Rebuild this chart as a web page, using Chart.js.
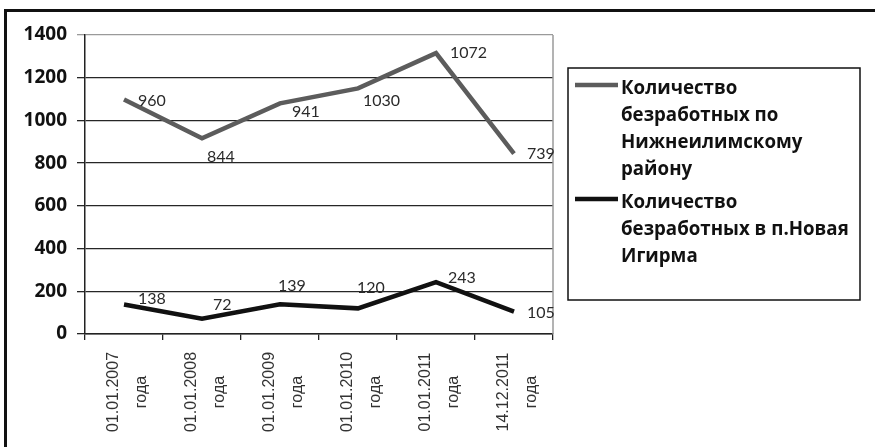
<!DOCTYPE html>
<html>
<head>
<meta charset="utf-8">
<script src="https://cdn.jsdelivr.net/npm/chart.js@4"></script>
<style>
  html, body { margin: 0; padding: 0; background: #fff; }
  #wrap { position: relative; width: 875px; height: 447px; }
</style>
</head>
<body>
<div id="wrap"><canvas id="chart" width="875" height="447"></canvas></div>
<script>
// categories (two lines each, as on the axis)
const dates = ["01.01.2007", "01.01.2008", "01.01.2009", "01.01.2010", "01.01.2011", "14.12.2011"];
const dateSuffix = "года";

// series (the chart is a stacked line: district line sits on top of the settlement line)
const districtName = "Количество\nбезработных по\nНижнеилимскому\nрайону";
const districtValues = [960, 844, 941, 1030, 1072, 739];
const settlementName = "Количество\nбезработных в п.Новая\nИгирма";
const settlementValues = [138, 72, 139, 120, 243, 105];

const yTicks = [0, 200, 400, 600, 800, 1000, 1200, 1400];

// small nudges for the value labels (Excel moved them around the line)
const districtNudge = [[14, 1], [5, 18], [12, 9], [5, 12], [14, 0], [13, 0]];
const settlementNudge = [[14, -6], [11, -14], [-2, -18], [-1, -21], [12, -4], [13, 1]];

const GREY = "#5c5c5c";
const BLACK = "#111111";
const FONT = "Lato, 'Open Sans', sans-serif";
const BOLD_FONT = "'Open Sans', Lato, sans-serif";

const frame = {
  id: "frame",
  beforeDraw(chart) {
    const ctx = chart.ctx;
    ctx.save();
    ctx.fillStyle = "#fff";
    ctx.fillRect(0, 0, chart.width, chart.height);
    // outer border (top + left only, rest is cut off)
    ctx.strokeStyle = BLACK;
    ctx.lineWidth = 3;
    ctx.beginPath();
    ctx.moveTo(5.5, chart.height);
    ctx.lineTo(5.5, 10.5);
    ctx.lineTo(chart.width, 10.5);
    ctx.stroke();
    ctx.restore();
  },
  afterDraw(chart) {
    const ctx = chart.ctx;
    const a = chart.chartArea;
    const x = chart.scales.x;
    ctx.save();
    // plot area frame right side
    ctx.strokeStyle = "#9a9a9a";
    ctx.lineWidth = 1.5;
    ctx.beginPath();
    ctx.moveTo(a.right, a.top);
    ctx.lineTo(a.right, a.bottom);
    ctx.stroke();

    // x labels, rotated, two centred lines
    ctx.fillStyle = "#333";
    ctx.font = "16px 'Liberation Sans', Arial, sans-serif";
    ctx.textAlign = "center";
    ctx.textBaseline = "alphabetic";
    dates.forEach((d, i) => {
      const cx = x.getPixelForValue(i);
      ctx.save();
      ctx.translate(cx, 392);
      ctx.rotate(-Math.PI / 2);
      ctx.fillText(d, 0, -6);
      ctx.fillText(dateSuffix, 0, 22);
      ctx.restore();
    });

    // value labels
    ctx.font = "16px " + FONT;
    ctx.textAlign = "left";
    ctx.textBaseline = "middle";
    ctx.fillStyle = "#2a2a2a";
    [[0, settlementValues, settlementNudge], [1, districtValues, districtNudge]].forEach(([di, vals, nudge]) => {
      const meta = chart.getDatasetMeta(di);
      meta.data.forEach((pt, i) => {
        ctx.fillText(String(vals[i]), pt.x + nudge[i][0], pt.y + nudge[i][1]);
      });
    });

    // legend box
    const lx = 568, ly = 68, lw = 292, lh = 232;
    ctx.strokeStyle = BLACK;
    ctx.lineWidth = 1.5;
    ctx.strokeRect(lx, ly, lw, lh);
    ctx.font = "bold 18.7px " + BOLD_FONT;
    ctx.fillStyle = "#111";
    const items = [
      { name: districtName, color: GREY, y: 89 },
      { name: settlementName, color: BLACK, y: 203 }
    ];
    items.forEach(it => {
      ctx.strokeStyle = it.color;
      ctx.lineWidth = 4.5;
      ctx.beginPath();
      ctx.moveTo(575, it.y - 4);
      ctx.lineTo(618, it.y - 4);
      ctx.stroke();
      it.name.split("\n").forEach((line, k) => {
        ctx.fillText(line, 621, it.y + k * 27);
      });
    });
    ctx.restore();
  }
};

new Chart(document.getElementById("chart"), {
  type: "line",
  data: {
    labels: dates,
    datasets: [
      {
        label: settlementName,
        data: settlementValues,
        borderColor: BLACK,
        borderWidth: 4.5,
        pointRadius: 0,
        tension: 0
      },
      {
        label: districtName,
        data: districtValues,
        borderColor: GREY,
        borderWidth: 4.5,
        pointRadius: 0,
        tension: 0
      }
    ]
  },
  options: {
    responsive: false,
    animation: false,
    layout: { padding: { left: 0, top: 35, right: 322, bottom: 113 } },
    plugins: { legend: { display: false }, tooltip: { enabled: false } },
    scales: {
      x: {
        offset: true,
        grid: { offset: true, drawOnChartArea: false, tickLength: 6, color: "#222", lineWidth: 1.3 },
        border: { color: "#222", width: 1.5 },
        ticks: { display: false },
        afterFit: (s) => { s.height = 0; }
      },
      y: {
        stacked: true,
        min: 0,
        max: 1400,
        afterBuildTicks: (s) => { s.ticks = yTicks.map(v => ({ value: v })); },
        grid: {
          tickLength: 8,
          lineWidth: 1.3,
          color: (c) => (c.tick && c.tick.value === 1400 ? "#9a9a9a" : "#262626")
        },
        border: { color: "#222", width: 1.5 },
        ticks: {
          padding: 10,
          color: "#111",
          font: { family: BOLD_FONT, size: 19, weight: "bold" },
          callback: (v) => String(v)
        },
        afterFit: (s) => { s.width = 85; }
      }
    }
  },
  plugins: [frame]
});
</script>
</body>
</html>
